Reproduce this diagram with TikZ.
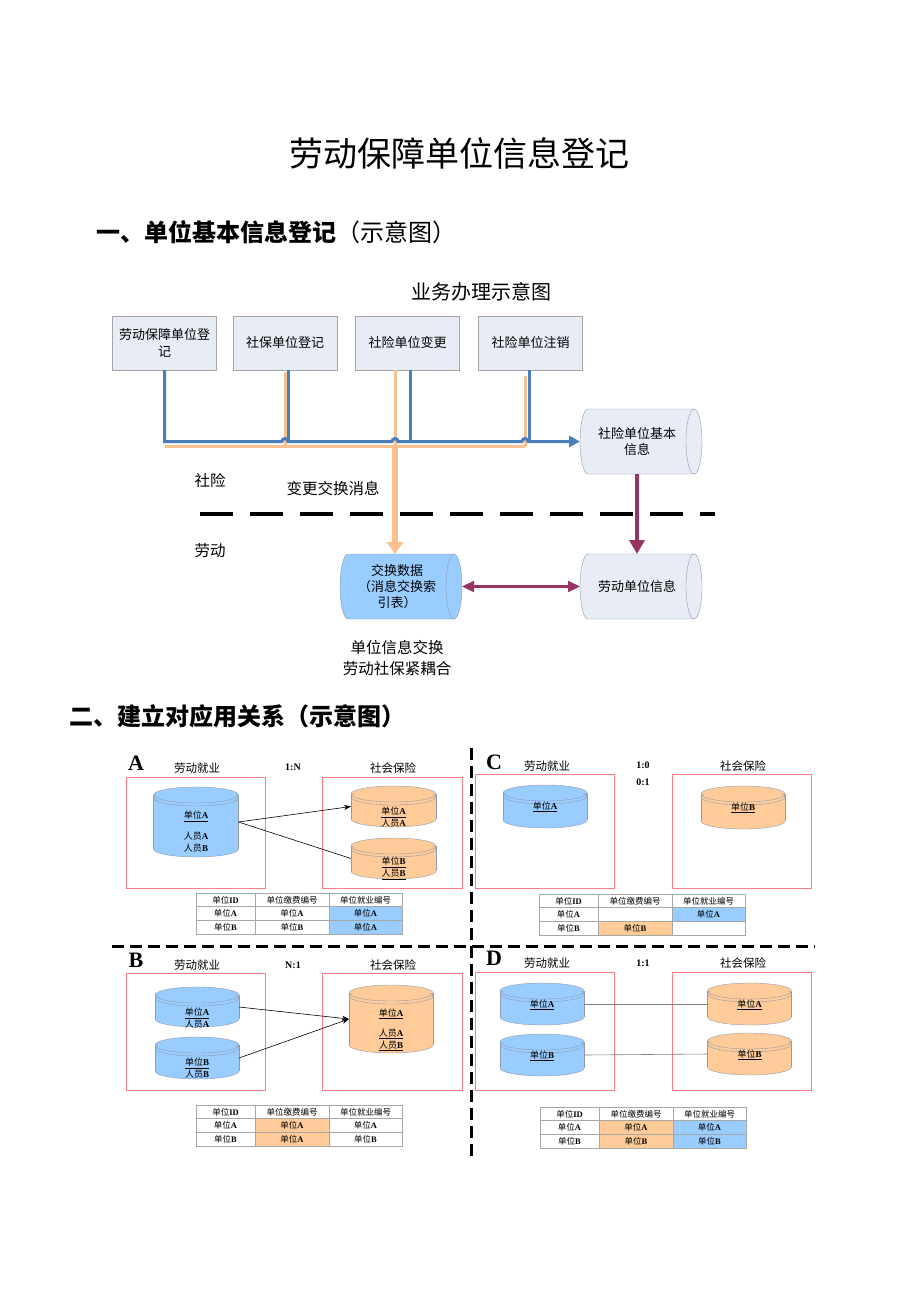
\documentclass[tikz,border=0pt]{standalone}
\usepackage{fontspec}
\setmainfont{Liberation Serif}
\newfontfamily\cjk{Noto Sans CJK SC}
\newfontfamily\lat{Liberation Serif}
\usepackage{tikz}
\usetikzlibrary{arrows.meta,positioning}

\definecolor{boxfill}{HTML}{E7ECF5}
\definecolor{boxline}{HTML}{A5A5A5}
\definecolor{busblue}{HTML}{4A7EBB}
\definecolor{busorange}{HTML}{FAC08F}
\definecolor{linkpurple}{HTML}{993366}
\definecolor{xchgblue}{HTML}{99CCFF}
\definecolor{dbblue}{HTML}{99CCFF}
\definecolor{dborange}{HTML}{FFCC99}
\definecolor{redline}{HTML}{FF7C80}
\definecolor{tabline}{HTML}{A6A6A6}
\definecolor{cyledge}{HTML}{8E9AAE}

\newcommand{\dw}[1]{单位{\lat\bfseries #1}}
\newcommand{\ry}[1]{人员{\lat\bfseries #1}}

% horizontal drum: name, x1, y1, x2, y2, fill, text
\newcommand{\hcyl}[7]{%
  \pgfmathsetmacro{\hcxa}{#2+8}\pgfmathsetmacro{\hcxb}{#4-8}\pgfmathsetmacro{\hcxc}{#4-16}%
  \pgfmathsetmacro{\hcym}{(#3+#5)/2}\pgfmathsetmacro{\hcky}{0.552*(#5-#3)/2}%
  \filldraw[fill=#6, draw=cyledge] (\hcxa,#3) -- (\hcxb,#3)
    .. controls (\hcxb+4.4,#3) and (#4,\hcym-\hcky) .. (#4,\hcym)
    .. controls (#4,\hcym+\hcky) and (\hcxb+4.4,#5) .. (\hcxb,#5) -- (\hcxa,#5)
    .. controls (\hcxa-4.4,#5) and (#2,\hcym+\hcky) .. (#2,\hcym)
    .. controls (#2,\hcym-\hcky) and (\hcxa-4.4,#3) .. cycle;
  \draw[cyledge] (\hcxb,#3) .. controls (\hcxb-4.4,#3) and (\hcxc,\hcym-\hcky) .. (\hcxc,\hcym)
    .. controls (\hcxc,\hcym+\hcky) and (\hcxb-4.4,#5) .. (\hcxb,#5);
  \node[inner sep=0pt, outer sep=0pt, minimum width={#4-#2}, minimum height={#5-#3}] (#1) at ({(#2+#4)/2},\hcym) {};
  \node[drumtxt] (#1-t) at ({(#2+\hcxb)/2},\hcym) {#7};
}

% upright drum: name, cx, ytop, ybot, fill, half width
\newcommand{\vcyl}[6]{%
  \pgfmathsetmacro{\vcl}{#2-#6}\pgfmathsetmacro{\vcr}{#2+#6}%
  \pgfmathsetmacro{\vct}{#3+8}\pgfmathsetmacro{\vcb}{#4-8}%
  \filldraw[fill=#5, draw=cyledge] (#2,\vcb) ellipse[x radius=#6, y radius=8];
  \fill[#5] (\vcl,\vct) rectangle (\vcr,\vcb);
  \draw[cyledge] (\vcl,\vct) -- (\vcl,\vcb) (\vcr,\vct) -- (\vcr,\vcb);
  \filldraw[fill=#5, draw=cyledge] (#2,\vct) ellipse[x radius=#6, y radius=8];
  \begin{scope}
    \clip (\vcl-1,\vct) rectangle (\vcr+1,\vct+12);
    \draw[cyledge] (#2,\vct+3) ellipse[x radius=#6, y radius=8];
  \end{scope}
  \node[inner sep=0pt, outer sep=0pt, minimum width={2*#6}, minimum height={#4-#3}] (#1) at (#2,{(#3+#4)/2}) {};
}

% one table row: name, at, style/text x3
\newcommand{\trow}[8]{%
  \node[tcell,#3,minimum width=59,anchor=north west] (#1-1) at (#2) {#4};
  \node[tcell,#5,minimum width=74,right=0pt of #1-1] (#1-2) {#6};
  \node[tcell,#7,minimum width=73,right=0pt of #1-2] (#1-3) {#8};
}

\tikzset{
  bizbox/.style={draw=boxline, fill=boxfill, minimum width=104, minimum height=54,
    align=center, inner sep=2pt, font=\cjk\fontsize{13}{17}\selectfont},
  drumtxt/.style={align=center, inner sep=0pt, font=\cjk\fontsize{13}{16}\selectfont},
  lanetxt/.style={align=center, inner sep=0pt, font=\cjk\fontsize{15.5}{21}\selectfont},
  heading/.style={anchor=west, inner sep=0pt, font=\cjk\bfseries\fontsize{24}{28}\selectfont},
  bluline/.style={draw=busblue, line width=3pt},
  orgline/.style={draw=busorange, line width=3pt},
  purline/.style={draw=linkpurple},
  quaddash/.style={line width=3pt, dash pattern=on 12pt off 6pt},
  redbox/.style={draw=redline, line width=0.8pt},
  sidetxt/.style={inner sep=0pt, font=\cjk\fontsize{11.5}{13}\selectfont},
  ratio/.style={inner sep=0pt, font=\lat\bfseries\fontsize{10}{12}\selectfont},
  quad/.style={inner sep=0pt, font=\lat\bfseries\fontsize{22}{24}\selectfont},
  dbtxt/.style={align=center, inner sep=0pt, font=\cjk\fontsize{9}{12}\selectfont},
  tcell/.style={draw=tabline, line width=0.6pt, inner sep=0pt, outer sep=0pt,
    minimum height=13.7, font=\cjk\fontsize{8.5}{10}\selectfont},
  bc/.style={fill=dbblue}, oc/.style={fill=dborange}, wc/.style={fill=white},
  maplink/.style={draw=black, line width=0.6pt},
}

\begin{document}
\begin{tikzpicture}[x=1pt,y=-1pt]
\useasboundingbox[fill=white] (0,0) rectangle (920,1302);

% headings
\node[inner sep=0pt, font=\cjk\fontsize{34}{40}\selectfont] (title) at (459,153) {劳动保障单位信息登记};
\node[heading] (sec1) at (96,232) {一、单位基本信息登记{\mdseries（示意图）}};
\node[inner sep=0pt, font=\cjk\fontsize{20}{24}\selectfont] (flow) at (481,292) {业务办理示意图};

% business boxes
\node[bizbox] (b1) at (164.5,343) {劳动保障单位登\\记};
\node[bizbox] (b2) at (285,343) {社保单位登记};
\node[bizbox] (b3) at (407.5,343) {社险单位变更};
\node[bizbox] (b4) at (530.5,343) {社险单位注销};

% drums
\hcyl{sx}{580}{409}{702}{474}{boxfill}{社险单位基本\\信息}
\hcyl{ld}{580}{554}{702}{619}{boxfill}{劳动单位信息}
\hcyl{ex}{340}{554}{462}{619}{xchgblue}{交换数据\\（消息交换索\\引表）}

\coordinate (u2) at ([xshift=3pt]b2.south);
\coordinate (u3) at ([xshift=2.5pt]b3.south);
\coordinate (u4) at ([xshift=-1.5pt]b4.south);
\coordinate (o2) at ([yshift=-2pt]b2.south);
\coordinate (o3) at ([xshift=-12.5pt]b3.south);
\coordinate (o4) at ([xshift=-5.5pt,yshift=-6pt]b4.south);
\coordinate (obus) at ([yshift=-5pt]sx.west);

% orange change messages
\draw[orgline] (b1.south |- obus) -- (o4 |- obus);
\foreach \c in {o2,o3,o4}
  \draw[orgline] (\c) -- (\c |- obus);
\draw[orgline, line width=5.5pt, -{Triangle[length=12pt,width=16pt]}] (o3 |- obus) -- (o3 |- ex.north);

% blue bus
\draw[bluline, -{Triangle[length=11pt,width=11pt]}] (b1.south) -- (b1.south |- sx.west)
  -- ([xshift=-3pt]o2 |- sx.west) arc[start angle=180,end angle=0,radius=3pt]
  -- ([xshift=-3pt]o3 |- sx.west) arc[start angle=180,end angle=0,radius=3pt]
  -- ([xshift=-3pt]o4 |- sx.west) arc[start angle=180,end angle=0,radius=3pt]
  -- (sx.west);
\foreach \c in {u2,u3,u4}
  \draw[bluline] (\c) -- (\c |- sx.west);

% purple links
\draw[purline, line width=4pt, -{Triangle[length=14pt,width=15pt]}] (sx-t |- sx.south) -- (sx-t |- ld.north);
\draw[purline, line width=2.2pt, {Triangle[length=12pt,width=11pt]}-{Triangle[length=12pt,width=11pt]}] (ex.east) -- (ld.west);

\draw[line width=4pt, dash pattern=on 33pt off 17pt] (200,514) -- (715,514);

\node[lanetxt] (lsx) at (210,481) {社险};
\node[lanetxt] (lld) at (210,551) {劳动};
\node[lanetxt] (msg) at (333,489) {变更交换消息};
\node[lanetxt] (note) at (397,658) {单位信息交换\\劳动社保紧耦合};

\node[heading] (sec2) at (69,716) {二、建立对应用关系（示意图）};

% quadrant dividers
\draw[quaddash] (471,748) -- (471,1160);
\draw[quaddash] (112,946) -- (815,946);

% ---- A  1:N
\node[quad] (qa) at (136,763) {A};
\node[sidetxt] (qa-l) at (197,768) {劳动就业};
\node[ratio] (qa-r) at (293,767) {1:N};
\node[sidetxt] (qa-s) at (393,768) {社会保险};
\draw[redbox] (126,777) rectangle (265,888);
\draw[redbox] (322,777) rectangle (462,888);
\vcyl{la}{196}{787}{857}{dbblue}{42.5}
\vcyl{oa1}{393.5}{786}{827}{dborange}{42.5}
\vcyl{oa2}{393.5}{838}{879}{dborange}{42.5}
\node[dbtxt] (la-t) at (196,832) {\underline{\dw{A}}\\[9pt]\ry{A}\\\ry{B}};
\node[dbtxt] (oa1-t) at (393.5,817.5) {\underline{\dw{A}}\\\ry{A}};
\node[dbtxt] (oa2-t) at (393.5,868.5) {\underline{\dw{B}}\\\underline{\ry{B}}};
\draw[maplink, -{Stealth[length=7pt,width=5pt]}] (la.east) -- (oa1.west);
\draw[maplink] (la.east) -- (oa2.west);
\trow{ta0}{196,893}{wc}{单位{\lat\bfseries ID}}{wc}{单位缴费编号}{wc}{单位就业编号}
\trow{ta1}{ta0-1.south west}{wc}{\dw{A}}{wc}{\dw{A}}{bc}{\dw{A}}
\trow{ta2}{ta1-1.south west}{wc}{\dw{B}}{wc}{\dw{B}}{bc}{\dw{A}}

% ---- C  1:0 / 0:1
\node[quad] (qc) at (494,762) {C};
\node[sidetxt] (qc-l) at (547,766) {劳动就业};
\node[ratio] (qc-r) at (643,765) {1:0};
\node[ratio] (qc-r2) at (643,782) {0:1};
\node[sidetxt] (qc-s) at (743,766) {社会保险};
\draw[redbox] (475,774) rectangle (614,888);
\draw[redbox] (672,774) rectangle (811,888);
\vcyl{lc}{545}{785}{828}{dbblue}{42}
\vcyl{oc}{743}{786}{829}{dborange}{42}
\node[dbtxt] (lc-t) at (545,807) {\underline{\dw{A}}};
\node[dbtxt] (oc-t) at (743,808) {\underline{\dw{B}}};
\trow{tc0}{539,894}{wc}{单位{\lat\bfseries ID}}{wc}{单位缴费编号}{wc}{单位就业编号}
\trow{tc1}{tc0-1.south west}{wc}{\dw{A}}{wc}{}{bc}{\dw{A}}
\trow{tc2}{tc1-1.south west}{wc}{\dw{B}}{oc}{\dw{B}}{wc}{}

% ---- B  N:1
\node[quad] (qb) at (136,960) {B};
\node[sidetxt] (qb-l) at (197,965) {劳动就业};
\node[ratio] (qb-r) at (293,965) {N:1};
\node[sidetxt] (qb-s) at (393,965) {社会保险};
\draw[redbox] (126,973) rectangle (265,1090);
\draw[redbox] (322,973) rectangle (462,1090);
\vcyl{lb1}{197}{987}{1027}{dbblue}{42}
\vcyl{lb2}{197}{1037}{1079}{dbblue}{42}
\vcyl{ob}{391}{985}{1053}{dborange}{42}
\node[dbtxt] (lb1-t) at (197,1018.5) {\underline{\dw{A}}\\\ry{A}};
\node[dbtxt] (lb2-t) at (197,1068.5) {\underline{\dw{B}}\\\ry{B}};
\node[dbtxt] (ob-t) at (391,1030) {\underline{\dw{A}}\\[8pt]\underline{\ry{A}}\\\underline{\ry{B}}};
\draw[maplink, -{Stealth[length=7pt,width=5pt]}] (lb1.east) -- (ob.west);
\draw[maplink, -{Stealth[length=7pt,width=5pt]}] (lb2.east) -- (ob.west);
\trow{tb0}{196,1105}{wc}{单位{\lat\bfseries ID}}{wc}{单位缴费编号}{wc}{单位就业编号}
\trow{tb1}{tb0-1.south west}{wc}{\dw{A}}{oc}{\dw{A}}{wc}{\dw{A}}
\trow{tb2}{tb1-1.south west}{wc}{\dw{B}}{oc}{\dw{A}}{wc}{\dw{B}}

% ---- D  1:1
\node[quad] (qd) at (494,958) {D};
\node[sidetxt] (qd-l) at (547,963) {劳动就业};
\node[ratio] (qd-r) at (643,963) {1:1};
\node[sidetxt] (qd-s) at (743,963) {社会保险};
\draw[redbox] (475,972) rectangle (614,1090);
\draw[redbox] (672,972) rectangle (811,1090);
\vcyl{ld1}{542}{983}{1025}{dbblue}{42}
\vcyl{ld2}{542}{1034}{1076}{dbblue}{42}
\vcyl{od1}{749.5}{983}{1025}{dborange}{42}
\vcyl{od2}{749.5}{1033}{1075}{dborange}{42}
\node[dbtxt] (ld1-t) at (542,1005) {\underline{\dw{A}}};
\node[dbtxt] (ld2-t) at (542,1056) {\underline{\dw{B}}};
\node[dbtxt] (od1-t) at (749.5,1005) {\underline{\dw{A}}};
\node[dbtxt] (od2-t) at (749.5,1055) {\underline{\dw{B}}};
\draw[maplink, draw=gray] (ld1.east) -- (od1.west);
\draw[maplink, draw=gray] (ld2.east) -- (od2.west);
\trow{td0}{540,1107}{wc}{单位{\lat\bfseries ID}}{wc}{单位缴费编号}{wc}{单位就业编号}
\trow{td1}{td0-1.south west}{wc}{\dw{A}}{oc}{\dw{A}}{bc}{\dw{A}}
\trow{td2}{td1-1.south west}{wc}{\dw{B}}{oc}{\dw{B}}{bc}{\dw{B}}
\end{tikzpicture}
\end{document}
